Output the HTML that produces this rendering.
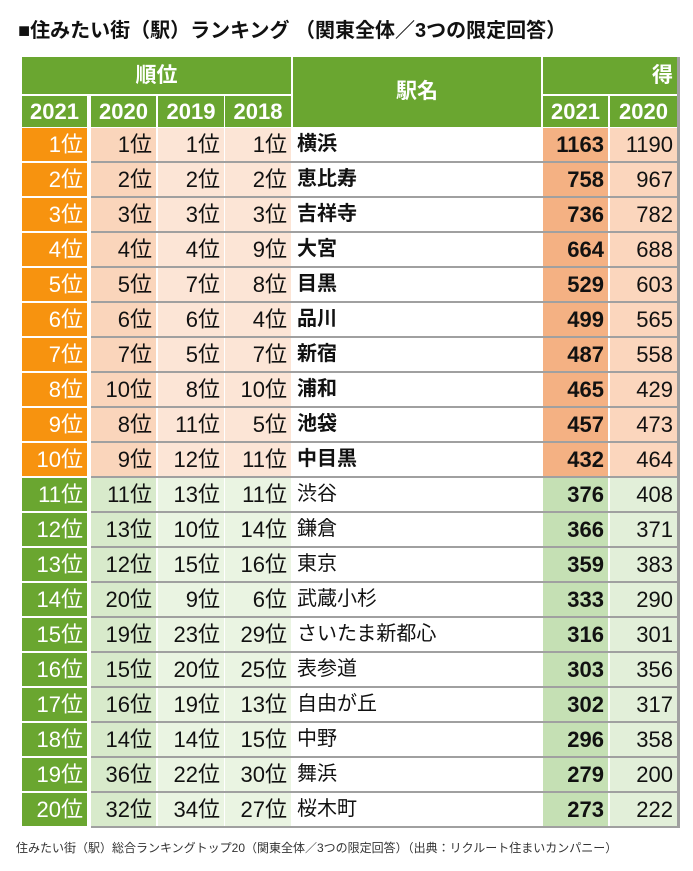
<!DOCTYPE html>
<html><head><meta charset="utf-8">
<style>
body{margin:0;width:693px;height:871px;background:#fff;overflow:hidden;position:relative;font-family:"Liberation Sans","Noto Sans CJK JP",sans-serif;}
.c{position:absolute;box-sizing:border-box;font-size:21px;line-height:33px;color:#111;white-space:nowrap;overflow:hidden}
.h{color:#fff;font-weight:bold;background:#6aa630;text-align:center}
#title{position:absolute;left:18px;top:14px;font-size:20px;font-weight:bold;color:#111}
#foot{position:absolute;left:16px;top:839px;font-size:12px;color:#333}
</style></head><body>
<div id="title">■住みたい街（駅）ランキング （関東全体／3つの限定回答）</div>
<div id="tbl"></div>
<div id="foot">住みたい街（駅）総合ランキングトップ20（関東全体／3つの限定回答）（出典：リクルート住まいカンパニー）</div>
<script>
const rank2020=[1,2,3,4,5,6,7,10,8,9,11,13,12,20,19,15,16,14,36,32];
const rank2019=[1,2,3,4,7,6,5,8,11,12,13,10,15,9,23,20,19,14,22,34];
const rank2018=[1,2,3,9,8,4,7,10,5,11,11,14,16,6,29,25,13,15,30,27];
const stations=["横浜","恵比寿","吉祥寺","大宮","目黒","品川","新宿","浦和","池袋","中目黒","渋谷","鎌倉","東京","武蔵小杉","さいたま新都心","表参道","自由が丘","中野","舞浜","桜木町"];
const score2021=[1163,758,736,664,529,499,487,465,457,432,376,366,359,333,316,303,302,296,279,273];
const score2020=[1190,967,782,688,603,565,558,429,473,464,408,371,383,290,301,356,317,358,200,222];
const tbl=document.getElementById('tbl');
function cell(x,y,w,h,txt,cls,style,name){
  const d=document.createElement('div');
  d.className='c '+(cls||'');
  d.style.cssText=`left:${x}px;top:${y}px;width:${w}px;height:${h}px;`+(style||'');
  d.textContent=txt;
  
  
  tbl.appendChild(d);return d;
}
cell(22,57,269,37,'順位','h','line-height:37px','rank-header');
cell(293,57,248,70,'駅名','h','line-height:70px','station-header');
cell(543,57,134,37,'得','h','line-height:37px;text-align:right;padding-right:4px','score-header');
const cols=[[22,65],[91,65],[158,66],[225,66]];
const yrs=['2021','2020','2019','2018'];
cols.forEach((c,i)=>cell(c[0],96,c[1],31,yrs[i],'h','line-height:31px;font-size:22px','rank-year-header'));
cell(543,96,65,31,'2021','h','line-height:31px;font-size:22px','score-year-header');
cell(610,96,67,31,'2020','h','line-height:31px;font-size:22px','score-year-header');
const rb=document.createElement('div');rb.style.cssText='position:absolute;left:677px;top:57px;width:3px;height:771px;background:#a0a0a0';


document.body.appendChild(rb);
const rowH=35,top0=128;
stations.forEach((s,i)=>{
  const y=top0+i*rowH, top=i<10;
  const c1=top?'#f7930f':'#6aa630', c2=top?'#fad5bb':'#d8eacb', c3=top?'#fce5d6':'#eaf4e2';
  const s1=top?'#f4b183':'#c5e0b4', s2=top?'#fbd6bd':'#e2efd9';
  const g=document.createElement('div');g.style.cssText=`position:absolute;left:91px;top:${y+33}px;width:586px;height:2px;background:#a0a0a0`;
  
  
  tbl.appendChild(g);
  const pr='text-align:right;padding-right:4px;';
  cell(22,y,65,33,(i+1)+'位','',pr+`background:${c1};color:#fff;font-size:22px`,'rank-2021');
  cell(91,y,65,33,rank2020[i]+'位','',pr+`background:${c2};font-size:22px`,'rank-2020');
  cell(158,y,66,33,rank2019[i]+'位','',pr+`background:${c3};font-size:22px`,'rank-2019');
  cell(225,y,66,33,rank2018[i]+'位','',pr+`background:${c3};font-size:22px`,'rank-2018');
  cell(293,y,248,33,s,'','padding-left:4px;background:#fff;'+(top?'font-weight:bold;font-size:20px':'font-size:20px'),'station-name');
  cell(543,y,65,33,score2021[i],'',pr+`background:${s1};font-weight:bold;font-size:22px`,'score-2021');
  cell(610,y,67,33,score2020[i],'',pr+`background:${s2};font-size:22px`,'score-2020');
});
</script>
</body></html>
